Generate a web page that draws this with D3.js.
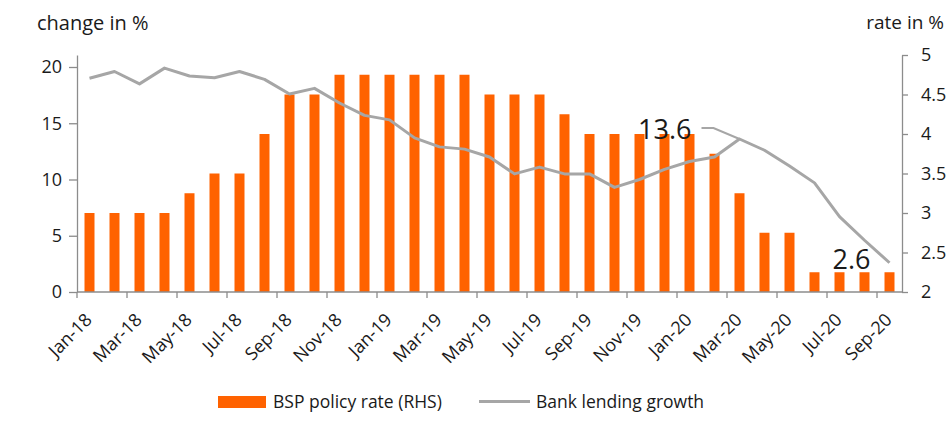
<!DOCTYPE html>
<html>
<head>
<meta charset="utf-8">
<script src="https://cdn.jsdelivr.net/npm/d3@7/dist/d3.min.js"></script>
<style>
  body { margin: 0; background: #fff; }
  text { font-family: "Open Sans", Lato, sans-serif; fill: #1a1a1a; }
</style>
</head>
<body>
<svg id="chart" width="952" height="438"></svg>
<script>
const months = ["Jan-18","Feb-18","Mar-18","Apr-18","May-18","Jun-18","Jul-18","Aug-18","Sep-18","Oct-18","Nov-18","Dec-18",
  "Jan-19","Feb-19","Mar-19","Apr-19","May-19","Jun-19","Jul-19","Aug-19","Sep-19","Oct-19","Nov-19","Dec-19",
  "Jan-20","Feb-20","Mar-20","Apr-20","May-20","Jun-20","Jul-20","Aug-20","Sep-20"];
const policyRate = [3.0,3.0,3.0,3.0,3.25,3.5,3.5,4.0,4.5,4.5,4.75,4.75,
  4.75,4.75,4.75,4.75,4.5,4.5,4.5,4.25,4.0,4.0,4.0,4.0,
  4.0,3.75,3.25,2.75,2.75,2.25,2.25,2.25,2.25];
const lendingGrowth = [19.0,19.6,18.5,19.9,19.2,19.05,19.6,18.9,17.6,18.1,16.8,15.7,
  15.3,13.7,12.9,12.7,12.0,10.5,11.1,10.5,10.5,9.3,10.0,10.9,
  11.6,12.0,13.6,12.6,11.2,9.7,6.7,4.6,2.6];
const leftTicks = [0,5,10,15,20];
const rightTicks = [2,2.5,3,3.5,4,4.5,5];
const seriesNames = ["BSP policy rate (RHS)", "Bank lending growth"];
const callouts = [{month:"Mar-20", value:13.6}, {month:"Sep-20", value:2.6}];

const svg = d3.select("#chart");
const X0 = 77, X1 = 902, YB = 292, YT = 55;
const orange = "#ff6200", grey = "#a6a6a6", axisCol = "#8c8c8c";
const FONT = "'Open Sans', Lato, sans-serif";

const x = d3.scaleBand().domain(months).range([X0, X1]).paddingInner(0.6).paddingOuter(0.3);
const yL = d3.scaleLinear().domain([0, 20 * (YB - YT) / 225]).range([YB, YT]);
const yR = d3.scaleLinear().domain([2, 5]).range([YB, YT]);
const cx = m => x(m) + x.bandwidth() / 2;

// bars
svg.append("g").selectAll("rect").data(months).join("rect")
  .attr("x", m => x(m)).attr("width", x.bandwidth())
  .attr("y", (m, i) => yR(policyRate[i]))
  .attr("height", (m, i) => YB - yR(policyRate[i]))
  .attr("fill", orange);

// line
const line = d3.line().x((d, i) => cx(months[i])).y(d => yL(d));
svg.append("path").datum(lendingGrowth)
  .attr("d", line).attr("fill", "none")
  .attr("stroke", grey).attr("stroke-width", 3).attr("stroke-linejoin", "round");

// left axis
const gL = svg.append("g").attr("transform", `translate(${X0},0)`)
  .call(d3.axisLeft(yL).tickValues(leftTicks).tickSize(8).tickPadding(7).tickSizeOuter(0));
// right axis
const gR = svg.append("g").attr("transform", `translate(${X1},0)`)
  .call(d3.axisRight(yR).tickValues(rightTicks).tickSize(6).tickPadding(13).tickSizeOuter(0).tickFormat(d3.format("")));
// bottom axis
const step = x.step();
const labelled = months.filter((m, i) => i % 2 === 0);
const gB = svg.append("g").attr("transform", `translate(0,${YB})`);
gB.append("line").attr("x1", X0).attr("x2", X1).attr("y1", 0).attr("y2", 0).attr("stroke", axisCol).attr("stroke-width", 1.3);
gB.selectAll("line.t").data(labelled).join("line").attr("class", "t")
  .attr("x1", m => x(m) - x.paddingOuter() * step).attr("x2", m => x(m) - x.paddingOuter() * step)
  .attr("y1", 0).attr("y2", 6).attr("stroke", axisCol).attr("stroke-width", 1.3);
gB.selectAll("text").data(labelled).join("text")
  .attr("transform", m => `translate(${cx(m) + 3.5},${29}) rotate(-45)`)
  .attr("text-anchor", "end").attr("font-size", 18).text(m => m);

[gL, gR].forEach(g => {
  g.selectAll(".domain").attr("stroke", axisCol).attr("stroke-width", 1.3);
  g.selectAll(".tick line").attr("stroke", axisCol).attr("stroke-width", 1.3);
  g.selectAll(".tick text").attr("font-size", 18).style("font-family", FONT).attr("fill", "#1a1a1a");
});

// axis titles
svg.append("text").attr("x", 37).attr("y", 30).attr("font-size", 20).text("change in %");
svg.append("text").attr("x", 944).attr("y", 29).attr("font-size", 19).attr("text-anchor", "end").text("rate in %");

// callouts
const c1 = callouts[0];
const px = cx(c1.month), py = yL(c1.value);
svg.append("path").attr("d", `M${px},${py} L${px - 26},${py - 11} L${px - 38},${py - 11}`)
  .attr("fill", "none").attr("stroke", grey).attr("stroke-width", 2);
svg.append("text").attr("x", px - 48).attr("y", py).attr("text-anchor", "end")
  .attr("font-size", 27).text(c1.value.toFixed(1));
const c2 = callouts[1];
svg.append("text").attr("x", cx(c2.month) - 38).attr("y", yL(c2.value) + 6).attr("text-anchor", "middle")
  .attr("font-size", 27).text(c2.value.toFixed(1));

// legend
const lg = svg.append("g");
lg.append("rect").attr("x", 218).attr("y", 396).attr("width", 48).attr("height", 12).attr("fill", orange);
lg.append("text").attr("x", 273).attr("y", 408).attr("font-size", 17.5).text(seriesNames[0]);
lg.append("line").attr("x1", 479).attr("x2", 530).attr("y1", 401.5).attr("y2", 401.5).attr("stroke", grey).attr("stroke-width", 3);
lg.append("text").attr("x", 536).attr("y", 408).attr("font-size", 17.5).text(seriesNames[1]);
</script>
</body>
</html>
